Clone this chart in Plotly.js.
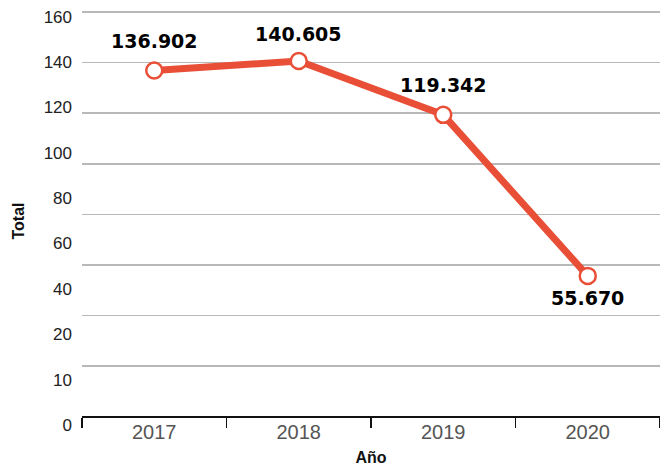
<!DOCTYPE html>
<html>
<head>
<meta charset="utf-8">
<script src="https://cdn.plot.ly/plotly-3.0.1.min.js"></script>
<style>
  html, body { margin: 0; padding: 0; background: #ffffff; }
  #chart { width: 660px; height: 468px; }
</style>
</head>
<body>
<div id="chart"></div>
<script>
// ---- data ----
const years = ['2017', '2018', '2019', '2020'];
const totals = [136.902, 140.605, 119.342, 55.670];
const totalLabels = ['136.902', '140.605', '119.342', '55.670'];
const yTickLabels = ['0', '10', '20', '40', '60', '80', '100', '120', '140', '160'];
const gridValues = [20, 40, 60, 80, 100, 120, 140, 160];

// ---- style ----
const RED = '#e94f37';
const W = 660, H = 468;
const M = { l: 82, r: 0, t: 10, b: 36 };
const plotH = H - M.t - M.b;          // 422
const axisLinePx = 416.7;             // pixel row of the x axis line
const xAxisPos = (H - M.b - axisLinePx) / plotH;

const lineTrace = {
  x: years,
  y: totals,
  xaxis: 'x',
  yaxis: 'y',
  type: 'scatter',
  mode: 'lines+markers',
  line: { color: RED, width: 7 },
  marker: { size: 16, color: '#ffffff', line: { color: RED, width: 2.5 } },
  hoverinfo: 'skip',
  showlegend: false,
  cliponaxis: false
};

// carrier for the tick-label axis
const labelAxisTrace = {
  x: [years[0]],
  y: [null],
  xaxis: 'x',
  yaxis: 'y2',
  type: 'scatter',
  mode: 'markers',
  hoverinfo: 'skip',
  showlegend: false
};

const annotations = years.map((yr, i) => ({
  x: i,
  y: totals[i],
  xref: 'x',
  yref: 'y',
  text: '<b>' + totalLabels[i] + '</b>',
  showarrow: false,
  xanchor: 'center',
  yanchor: 'middle',
  yshift: i === years.length - 1 ? -22 : (i === 1 ? 27 : 29.5),
  font: { family: 'DejaVu Sans', size: 19, color: '#000000' }
}));

const layout = {
  width: W,
  height: H,
  margin: M,
  paper_bgcolor: '#ffffff',
  plot_bgcolor: '#ffffff',
  font: { family: 'Liberation Sans, Arial, sans-serif', color: '#222222' },
  showlegend: false,
  xaxis: {
    type: 'category',
    range: [-0.5, 3.5],
    anchor: 'free',
    position: xAxisPos,
    showline: true,
    linecolor: '#111111',
    linewidth: 2,
    showgrid: false,
    zeroline: false,
    ticks: 'outside',
    tickson: 'boundaries',
    ticklen: 10,
    tickwidth: 1.5,
    tickcolor: '#111111',
    tickfont: { family: 'Liberation Sans, Arial, sans-serif', size: 20, color: '#555555' },
    ticklabelstandoff: -3,
    title: {
      text: 'Año',
      standoff: 9,
      font: { family: 'Liberation Sans, Arial, sans-serif', size: 16, color: '#111111', weight: 'bold' }
    },
    automargin: false,
    fixedrange: true
  },
  yaxis: {
    range: [(H - M.b - axisLinePx) / -2.5294, 160 + (12 - M.t) / 2.5294],
    tickmode: 'array',
    tickvals: gridValues,
    showticklabels: false,
    ticks: '',
    showgrid: true,
    gridcolor: '#b8b8b8',
    gridwidth: 1.5,
    zeroline: false,
    showline: false,
    automargin: false,
    fixedrange: true
  },
  yaxis2: {
    overlaying: 'y',
    side: 'left',
    anchor: 'x',
    range: [-(H - M.b - 425) / 45.37, 9 + (16.7 - M.t) / 45.37],
    tickmode: 'array',
    tickvals: yTickLabels.map((_, i) => i),
    ticktext: yTickLabels,
    ticks: '',
    ticklabelstandoff: 9,
    tickfont: { family: 'Liberation Sans, Arial, sans-serif', size: 17, color: '#222222' },
    showgrid: false,
    zeroline: false,
    showline: false,
    title: {
      text: 'Total',
      standoff: 15,
      font: { family: 'Liberation Sans, Arial, sans-serif', size: 16, color: '#111111', weight: 'bold' }
    },
    automargin: false,
    fixedrange: true
  },
  annotations: annotations
};

Plotly.newPlot('chart', [labelAxisTrace, lineTrace], layout, { staticPlot: true, displayModeBar: false });
</script>
</body>
</html>
